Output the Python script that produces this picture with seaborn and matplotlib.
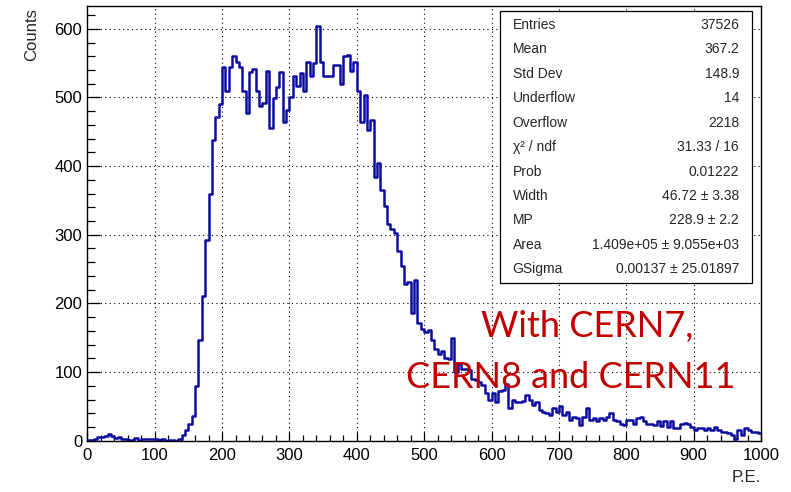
import numpy as np
import pandas as pd
import matplotlib
matplotlib.use("Agg")
import matplotlib.pyplot as plt
from matplotlib.ticker import MultipleLocator
from matplotlib.patches import Rectangle
import seaborn as sns

# P.E. spectrum, 200 bins of 5 P.E. between 0 and 1000
bin_lo, bin_hi, bin_width = 0, 1000, 5
counts = [
    # 0 - 140
    1, 1, 2, 5, 5, 7, 10, 7, 4, 5, 3, 3, 1, 1, 4, 0, 2, 2, 3, 3, 3, 1, 2, 0, 1, 1, 0, 3,
    # 140 - 200
    8, 16, 25, 36, 79, 147, 211, 293, 359, 438, 472, 490,
    # 200 - 290
    544, 509, 545, 560, 552, 544, 510, 477, 537, 541, 509, 488, 492, 538, 455, 499, 515, 537,
    # 290 - 365
    465, 482, 501, 532, 516, 536, 509, 552, 531, 550, 604, 552, 531, 531, 531,
    # 365 - 400
    548, 548, 519, 560, 562, 538, 552,
    # 400 - 465
    510, 464, 504, 452, 467, 384, 404, 365, 342, 316, 308, 302, 277,
    # 465 - 550
    254, 229, 231, 186, 234, 172, 162, 159, 161, 146, 133, 127, 131, 120, 119, 150, 100,
    # 550 - 625
    112, 104, 105, 103, 90, 88, 86, 81, 70, 60, 70, 57, 72, 74, 82,
    # 625 - 800
    47, 60, 56, 57, 58, 67, 59, 52, 57, 45, 42, 40, 38, 47, 42, 50, 38, 42, 30, 35,
    33, 23, 35, 47, 30, 33, 28, 33, 30, 35, 40, 30, 28, 25, 23,
    # 800 - 1000
    30, 30, 25, 33, 35, 28, 25, 24, 23, 28, 21, 29, 20, 28, 19, 18, 25, 26, 25, 20,
    16, 18, 19, 16, 18, 16, 20, 16, 13, 12, 11, 8, 2, 16, 8, 18, 16, 13, 13, 11,
]

stat_names = ["Entries", "Mean", "Std Dev", "Underflow", "Overflow", "χ² / ndf",
              "Prob", "Width", "MP", "Area", "GSigma"]
stat_values = ["37526", "367.2", "148.9", "14", "2218", "31.33 / 16", "0.01222",
               "46.72 ± 3.38", "228.9 ± 2.2", "1.409e+05 ± 9.055e+03",
               "0.00137 ± 25.01897"]

x_ticks = [0, 100, 200, 300, 400, 500, 600, 700, 800, 900, 1000]
y_ticks = [0, 100, 200, 300, 400, 500, 600]

sns.set_style("white")
plt.rcParams['font.family'] = ['Liberation Sans', 'DejaVu Sans']

W, H = 791, 492
fig = plt.figure(figsize=(W / 100, H / 100), dpi=100)
ax = fig.add_axes([87.3 / W, 1 - 440.7 / H, (761 - 87.3) / W, (440.7 - 5.5) / H])

centers = np.arange(bin_lo, bin_hi, bin_width) + bin_width / 2
df = pd.DataFrame({"pe": centers, "counts": counts})
sns.histplot(data=df, x="pe", weights="counts", binwidth=bin_width,
             binrange=(bin_lo, bin_hi), element="step", fill=False,
             color="#0c0c9e", linewidth=1.8, ax=ax)

ax.set_xlim(0, 1000)
ax.set_ylim(0, 634)
ax.set_xticks(x_ticks)
ax.set_yticks(y_ticks)
ax.xaxis.set_minor_locator(MultipleLocator(20))
ax.yaxis.set_minor_locator(MultipleLocator(20))
ax.set_xlabel("")
ax.set_ylabel("")
ax.set_axisbelow(True)
ax.grid(True, which="major", color="black", linestyle=(0, (1, 3)), linewidth=0.8)
ax.tick_params(axis="both", which="both", direction="in", bottom=True, left=True,
               top=False, right=False, labelsize=12, colors="black", width=0.9)
ax.tick_params(axis="x", which="major", length=6.5, pad=5)
ax.tick_params(axis="x", which="minor", length=4)
ax.tick_params(axis="y", which="major", length=9, pad=3.6)
ax.tick_params(axis="y", which="minor", length=6)
for s in ax.spines.values():
    s.set_color("black")
    s.set_linewidth(1.0)

fig.text(32 / W, 1 - 8 / H, "Counts", rotation=90, ha="center", va="top", fontsize=12)
fig.text(761 / W, 1 - 477 / H, "P.E.", ha="right", va="center", fontsize=12)

# stats box
fig.add_artist(Rectangle((499.5 / W, 1 - 283 / H), (752 - 499.5) / W, (283 - 11) / H,
                         transform=fig.transFigure, facecolor="white",
                         edgecolor="black", linewidth=0.9, zorder=5))
for i, (name, val) in enumerate(zip(stat_names, stat_values)):
    yy = 1 - (25 + 24.43 * i) / H
    fig.text(512.7 / W, yy, name, ha="left", va="center", fontsize=10, zorder=6)
    fig.text(739 / W, yy, val, ha="right", va="center", fontsize=10, zorder=6)

# annotation
fig.text(587.5 / W, 1 - 337 / H, "With CERN7,", ha="center", va="baseline",
         fontsize=26, color="#c00000", family=["Lato", "DejaVu Sans"], zorder=7)
fig.text(570.5 / W, 1 - 388 / H, "CERN8 and CERN11", ha="center", va="baseline",
         fontsize=26, color="#c00000", family=["Lato", "DejaVu Sans"], zorder=7)

fig.savefig("out.png", dpi=100)
